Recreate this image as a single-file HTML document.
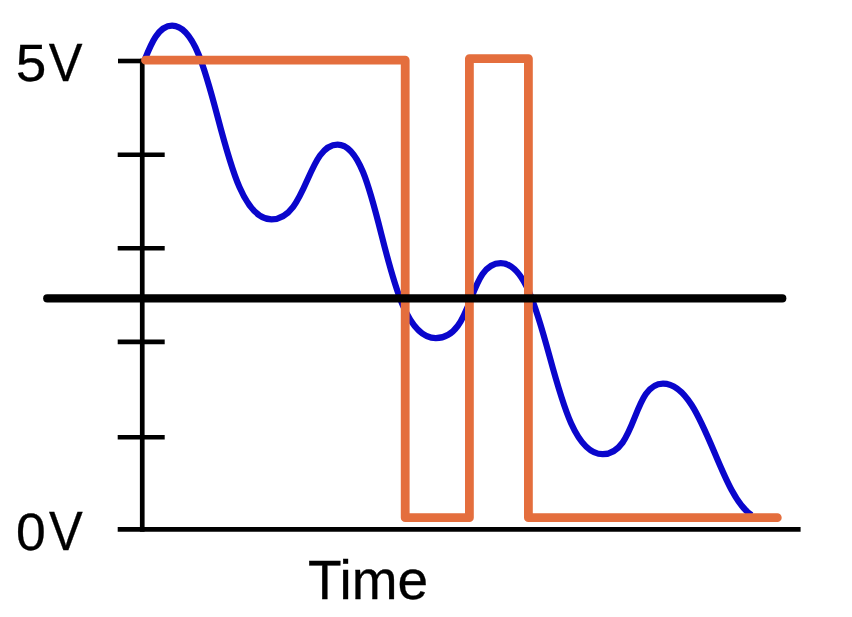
<!DOCTYPE html>
<html><head><meta charset="utf-8"><title>Signal</title>
<style>
html,body{margin:0;padding:0;background:#fff;}
body{width:852px;height:617px;overflow:hidden;position:relative;font-family:"Liberation Sans",Arial,sans-serif;color:#0c0c0c;}
svg{position:absolute;left:0;top:0;display:block;filter:blur(0.4px);}
</style></head><body>
<svg width="852" height="617" viewBox="0 0 852 617" fill="none">
<g stroke="#000">
<line x1="142.25" y1="58.8" x2="142.25" y2="531.8" stroke-width="4.7"/>
<g stroke-width="4.6">
<line x1="118" y1="61" x2="143" y2="61"/>
<line x1="117.7" y1="154.7" x2="164.7" y2="154.7"/>
<line x1="117.7" y1="248.3" x2="164.7" y2="248.3"/>
<line x1="117.7" y1="341.9" x2="164.7" y2="341.9"/>
<line x1="117.7" y1="437.3" x2="164.7" y2="437.3"/>
</g>
<line x1="117.7" y1="529.4" x2="800.6" y2="529.4" stroke-width="4.8"/>
</g>
<path d="M144.6 60.0 C150.8 44.6 158.2 25.7 172.1 25.7 C216.9 25.7 219.5 219.4 271.5 219.4 C307.0 219.4 307.2 144.6 337.6 144.6 C382.1 144.6 381.9 338.2 435.8 338.2 C473.8 338.2 467.9 263.1 500.7 263.1 C548.7 263.1 550.7 454.2 602.7 454.2 C636.7 454.2 632.5 383.6 663.0 383.6 C703.1 383.6 718.1 493.8 751.6 515.1" stroke="#0a06cc" stroke-width="6.2" stroke-linecap="butt" stroke-linejoin="round"/>
<path d="M145.5 60.2 H405.2 V517.7 H469.4 V58.6 H528.4 V517.7 H777.3" stroke="#e46e3d" stroke-width="8.8" stroke-linecap="round" stroke-linejoin="round"/>
<line x1="47.2" y1="298.4" x2="782.3" y2="298.4" stroke="#000" stroke-width="8.1" stroke-linecap="round"/>
</svg>
<svg width="852" height="617" viewBox="0 0 852 617" font-family="Liberation Sans, Arial, sans-serif" font-size="55" fill="#000" stroke="#000" stroke-width="0.3">
<text transform="translate(15.8 81.2) scale(1 0.95)">5</text>
<text transform="translate(48.7 81.2) scale(0.92 0.98)">V</text>
<text transform="translate(16.0 549.8) scale(0.973 0.95)">0</text>
<text transform="translate(49.0 549.8) scale(0.92 0.995)">V</text>
<text x="308" y="598.6">Time</text>
</svg>
</body></html>
